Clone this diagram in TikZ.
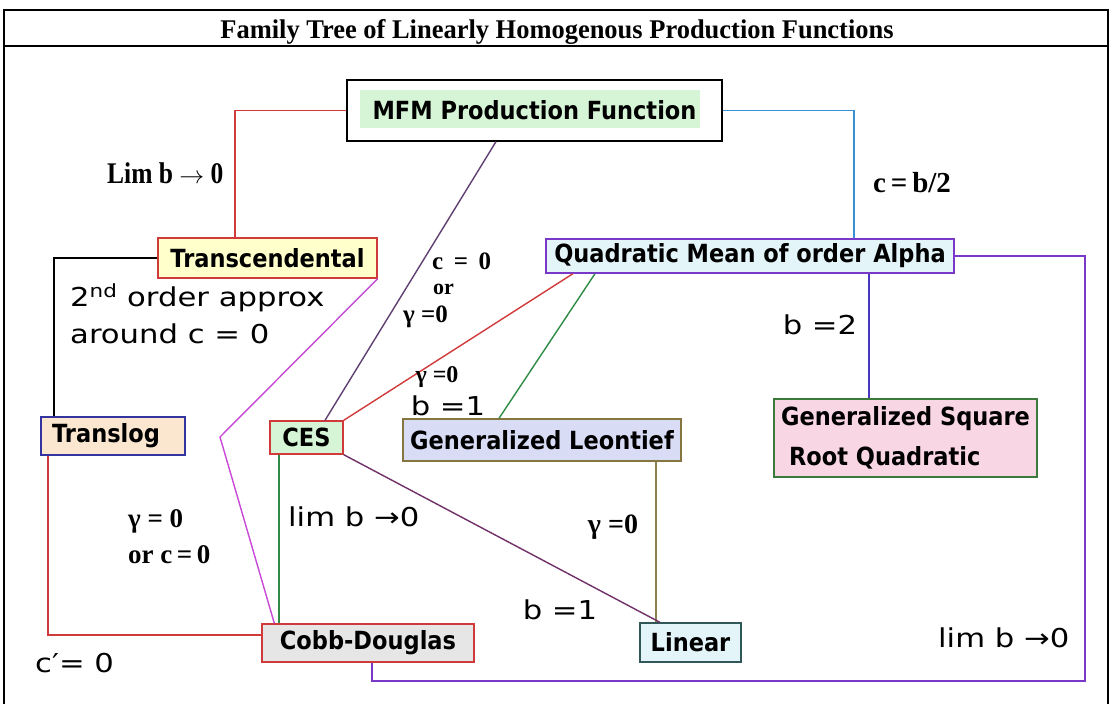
\documentclass[tikz,border=0pt]{standalone}
\usepackage{fontspec}
\setmainfont{Liberation Serif}
\newfontfamily\tahb[FakeStretch=0.9]{DejaVu Sans}
\newfontfamily\tahr[FakeStretch=1.18]{DejaVu Sans}
\newfontfamily\tms{Liberation Serif}
\newfontfamily\tmsn[FakeStretch=0.85]{Liberation Serif}
\newfontfamily\tmst[FakeStretch=0.98]{Liberation Serif}
\definecolor{cred}{HTML}{D03A3A}
\definecolor{cblue}{HTML}{3A90D0}
\definecolor{cpurple}{HTML}{7A38C8}
\definecolor{cindigo}{HTML}{4838C0}
\definecolor{cdpurple}{HTML}{604070}
\definecolor{cmag}{HTML}{C848D8}
\definecolor{cgreen}{HTML}{2E8A46}
\definecolor{colive}{HTML}{8A8050}
\definecolor{cplum}{HTML}{703068}
\definecolor{fgreen}{HTML}{D6F5D6}
\definecolor{fyellow}{HTML}{FFFFCC}
\definecolor{fcyan}{HTML}{E4F5FA}
\definecolor{fpeach}{HTML}{FBE6D0}
\definecolor{flav}{HTML}{D8DCF5}
\definecolor{fpink}{HTML}{F9D6E4}
\definecolor{fgray}{HTML}{E6E6E6}
\definecolor{bteal}{HTML}{305858}
\definecolor{bblue}{HTML}{3434A0}
\definecolor{bgreen}{HTML}{3A7A3A}
\definecolor{bolive}{HTML}{857640}
\begin{document}
\begin{tikzpicture}[x=1pt,y=-1pt,
  box/.style={draw, line width=1.3pt, inner sep=0pt,
    font=\tahb\bfseries\fontsize{25}{28}\selectfont},
  lbls/.style={inner sep=0pt, font=\tahr\fontsize{26}{30}\selectfont},
  lblt/.style={inner sep=0pt, font=\tms\bfseries\fontsize{27}{30}\selectfont},
  conn/.style={line width=1.4pt}]
\useasboundingbox (0,0) rectangle (1114,704);
\fill[white] (0,0) rectangle (1114,704);
% frame
\draw[line width=2.6pt] (4,10) rectangle (1108,720);
\draw[line width=2.6pt] (4,46) -- (1108,46);
\node[inner sep=0pt, anchor=base, font=\tmst\bfseries\fontsize{27}{30}\selectfont] (title) at (557,38) {Family Tree of Linearly Homogenous Production Functions};
% nodes
\fill[fgreen] (360,90) rectangle (700,128);
\node[box, black, text=black, minimum width=375pt, minimum height=61pt] (mfm) at (534.5,110.5) {MFM Production Function};
\node[box, draw=cred, fill=fyellow, minimum width=219pt, minimum height=40pt] (trans) at (267.5,258) {Transcendental};
\node[box, draw=cpurple, fill=fcyan, minimum width=408pt, minimum height=34pt] (qm) at (750,256) {Quadratic Mean of order Alpha};
\node[box, draw=bblue, fill=fpeach, minimum width=144pt, minimum height=38pt] (translog) at (113,436) {Translog\hspace*{14pt}};
\node[box, draw=cred, fill=fgreen, minimum width=73pt, minimum height=33pt] (ces) at (306.5,437.5) {CES};
\node[box, draw=bolive, fill=flav, minimum width=278pt, minimum height=42pt] (gl) at (542,440) {Generalized Leontief};
\node[box, draw=bgreen, fill=fpink, minimum width=263pt, minimum height=78pt, align=left, font=\tahb\bfseries\fontsize{25}{40}\selectfont] (gsrq) at (905.5,438) {Generalized Square\\\hspace*{8pt}Root Quadratic};
\node[box, draw=cred, fill=fgray, minimum width=212pt, minimum height=38pt] (cd) at (368,643) {Cobb-Douglas};
\node[box, draw=bteal, fill=fcyan, minimum width=101pt, minimum height=39pt] (linear) at (690.5,642.5) {Linear};
% helper coordinates
\coordinate (bend) at (220,437);
\coordinate (rc) at (1085,681);
% connectors
\draw[conn, cred] (mfm.west) -| ([xshift=-32.5pt]trans.north);
\draw[conn, black] (trans.west) -| ([xshift=-59pt]translog.north);
\draw[conn, cred] ([xshift=-65pt]translog.south) |- ([yshift=8pt]cd.west);
\draw[conn, cmag] (trans.south east) -- (bend) -- ([xshift=13pt]cd.north west);
\draw[conn, cdpurple] ([xshift=-38.5pt]mfm.south) -- ([xshift=18.5pt]ces.north);
\draw[conn, cblue] (mfm.east) -| ([xshift=104pt]qm.north);
\draw[conn, cindigo] ([xshift=119pt]qm.south) -- ([xshift=119pt]qm.south |- gsrq.north);
\draw[conn, cred] ([xshift=-177pt]qm.south) -- (ces.north east);
\draw[conn, cgreen] ([xshift=-155pt]qm.south) -- ([xshift=-43pt]gl.north);
\draw[conn, colive] ([xshift=114pt]gl.south) -- ([xshift=114pt]gl.south |- linear.north);
\draw[conn, cplum] (ces.south east) -- ([xshift=-30.5pt]linear.north);
\draw[conn, cgreen] ([xshift=-27.5pt]ces.south) -- ([xshift=-27.5pt]ces.south |- cd.north);
\draw[conn, cpurple] ([xshift=4pt]cd.south) |- (rc) |- (qm.east);
% labels
\node[lblt, anchor=base west, font=\tmsn\bfseries\fontsize{30}{30}\selectfont] (l1) at (107,183) {Lim b $\rightarrow$ 0};
\node[lblt, anchor=base west, font=\tms\bfseries\fontsize{29}{30}\selectfont] (l2) at (873,192) {c\,=\,b/2};
\node[lblt, anchor=base west, font=\tms\bfseries\fontsize{25}{26}\selectfont] (l3) at (432,269) {c\hspace{0.42em}=\hspace{0.42em}0};
\node[lblt, anchor=base west, font=\tms\bfseries\fontsize{22}{24}\selectfont] (l4) at (433,294) {or};
\node[lblt, anchor=base west, font=\tms\bfseries\fontsize{25}{26}\selectfont] (l5) at (403,322) {γ =0};
\node[lbls, anchor=west] (l6) at (70,298) {2\textsuperscript{nd} order approx};
\node[lbls, anchor=west] (l7) at (70,334) {around c = 0};
\node[lblt, font=\tms\bfseries\fontsize{24}{26}\selectfont] (l8) at (437,377) {γ =0};
\node[lbls] (l9) at (448,406) {b =1};
\node[lbls] (l10) at (820,325) {b =2};
\node[lblt, anchor=base west] (l11) at (128,527) {γ = 0};
\node[lblt, anchor=base west] (l12) at (128,563) {or c\,=\,0};
\node[lbls, anchor=west] (l13) at (288,517) {lim b →0};
\node[lblt, font=\tms\bfseries\fontsize{28}{30}\selectfont] (l14) at (613,527) {γ =0};
\node[lbls] (l15) at (560,610) {b =1};
\node[lbls, anchor=west] (l16) at (35,663) {c′= 0};
\node[lbls, anchor=west] (l17) at (938,638) {lim b →0};
\end{tikzpicture}
\end{document}
